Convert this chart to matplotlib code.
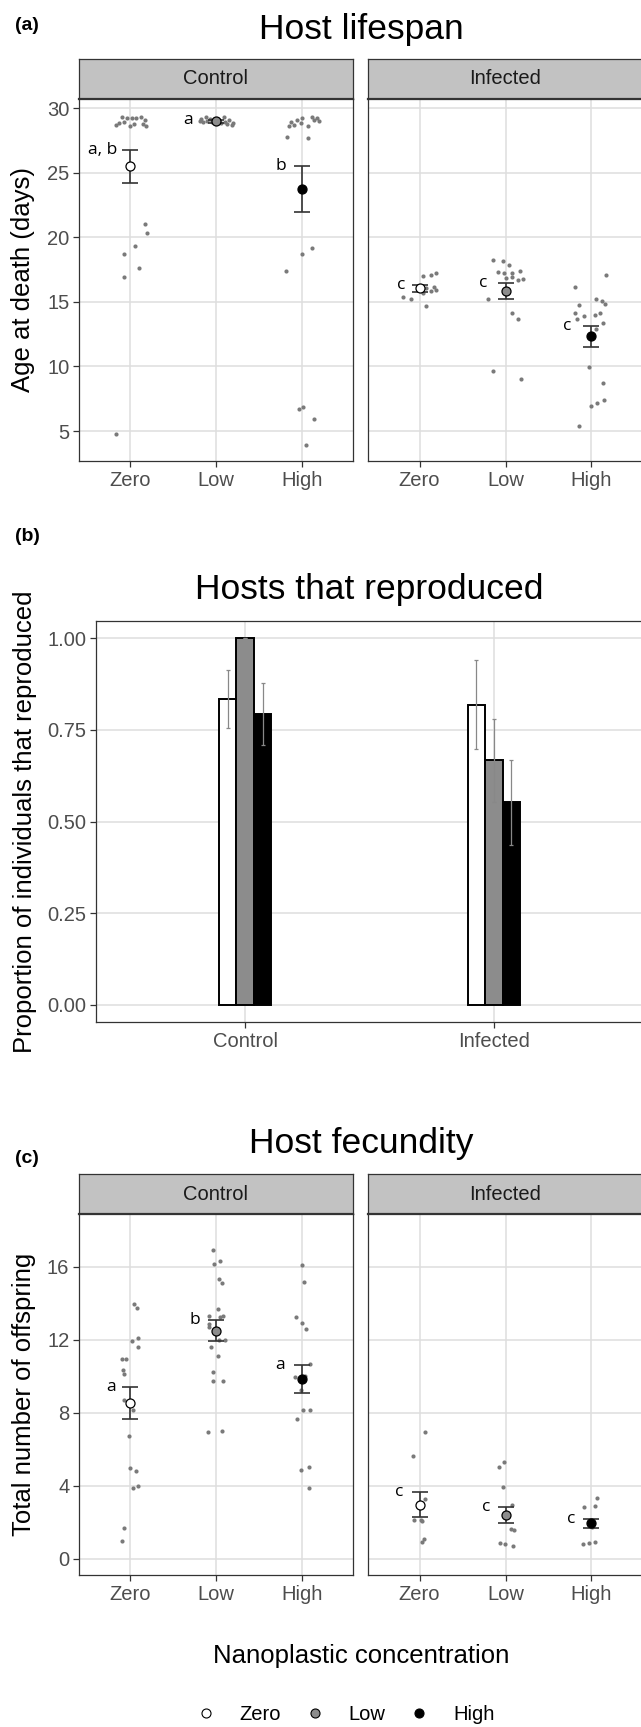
import matplotlib
matplotlib.use("Agg")
import matplotlib.pyplot as plt
from matplotlib.lines import Line2D

plt.rcParams['font.family'] = ['Liberation Sans', 'DejaVu Sans']

W, H = 641, 1727

conc = ["Zero", "Low", "High"]
groups = ["Control", "Infected"]
conc_fill = ["white", "#8c8c8c", "black"]

# ---- (a) host lifespan ----
life_mean_control = [25.5, 28.96, 23.73]
life_se_control = [1.27, 0.08, 1.79]
life_mean_infected = [16.05, 15.82, 12.34]
life_se_infected = [0.27, 0.60, 0.80]
life_letters_control = ["a, b", "a", "b"]
life_letters_infected = ["c", "c", "c"]

# raw points: offset from category centre and value
life_c_zero_dx = [-0.17, -0.13, -0.10, -0.07, -0.04, -0.01, 0.02, 0.04, 0.06, 0.12, 0.15, 0.17, 0.18,
                  0.17, 0.19, 0.05, -0.08, 0.10, -0.08, -0.17]
life_c_zero_y = [28.70, 28.83, 29.29, 28.93, 29.21, 28.62, 29.21, 28.78, 29.21, 29.29, 28.78, 29.08, 28.62,
                 21.05, 20.33, 19.30, 18.73, 17.65, 16.93, 4.80]
life_c_low_dx = [-0.19, -0.17, -0.15, -0.12, -0.10, -0.07, -0.05, -0.02, 0.03, 0.06, 0.09, 0.10,
                 0.13, 0.15, 0.19, 0.20]
life_c_low_y = [29.03, 29.13, 28.93, 29.29, 29.03, 29.19, 28.93, 29.08, 29.08, 28.88, 29.29, 28.95,
                28.78, 29.08, 28.70, 28.88]
life_c_high_dx = [-0.15, -0.12, -0.09, -0.05, -0.01, 0.01, 0.08, 0.12, 0.14, 0.18, 0.20,
                  -0.17, 0.07, -0.18, 0.00, 0.12, -0.03, 0.02, 0.14, 0.05]
life_c_high_y = [28.62, 28.95, 28.70, 29.08, 28.83, 29.21, 28.62, 29.34, 29.08, 29.21, 29.03,
                 27.72, 27.65, 17.37, 18.73, 19.17, 6.68, 6.83, 5.90, 3.95]
life_i_zero_dx = [-0.19, -0.10, 0.04, 0.13, 0.19, 0.17, 0.13, 0.19, 0.08, 0.04, 0.07]
life_i_zero_y = [15.41, 15.20, 17.01, 17.09, 17.24, 16.13, 15.85, 15.90, 14.64, 15.68, 16.05]
life_i_low_dx = [-0.14, -0.03, 0.04, -0.09, -0.02, 0.08, 0.17, 0.07, 0.00, 0.14, 0.20,
                 -0.20, 0.07, 0.14, -0.15, 0.18]
life_i_low_y = [18.22, 18.14, 17.88, 17.34, 17.24, 17.24, 17.42, 16.95, 16.85, 16.72, 16.77,
                15.25, 14.12, 13.65, 9.61, 9.05]
life_i_high_dx = [0.17, -0.19, -0.14, 0.05, 0.12, 0.16, -0.19, -0.09, 0.04, 0.10, -0.17, 0.14,
                  0.05, -0.03, 0.14, 0.15, 0.07, 0.00, -0.14]
life_i_high_y = [17.06, 16.18, 14.74, 15.20, 15.10, 14.84, 14.15, 13.89, 14.00, 14.15, 13.65, 13.38,
                 12.86, 9.98, 8.71, 7.43, 7.20, 6.93, 5.36]

# ---- (b) hosts that reproduced ----
repro_control = [0.834, 1.0, 0.794]
repro_control_se = [0.078, 0.0, 0.085]
repro_infected = [0.819, 0.667, 0.552]
repro_infected_se = [0.122, 0.114, 0.115]

# ---- (c) host fecundity ----
fec_mean_control = [8.54, 12.50, 9.85]
fec_se_control = [0.87, 0.56, 0.75]
fec_mean_infected = [2.97, 2.39, 1.95]
fec_se_infected = [0.70, 0.44, 0.24]
fec_letters_control = ["a", "b", "a"]
fec_letters_infected = ["c", "c", "c"]

fec_c_zero_dx = [0.04, 0.08, 0.02, 0.09, 0.09, -0.10, -0.05, -0.09, -0.08, -0.07, 0.03, -0.02,
                 -0.01, 0.07, 0.03, 0.09, -0.07, -0.10]
fec_c_zero_y = [13.97, 13.74, 11.95, 12.11, 11.60, 10.93, 10.95, 10.34, 10.14, 8.70, 8.16, 6.75,
                4.96, 4.82, 3.89, 4.00, 1.71, 1.00]
fec_c_low_dx = [-0.03, -0.02, 0.05, 0.04, 0.07, 0.02, -0.08, 0.08, -0.08, -0.08, 0.05, 0.03, 0.10,
                -0.06, 0.02, -0.03, -0.04, 0.08, -0.09, 0.07]
fec_c_low_y = [16.90, 16.13, 16.33, 15.34, 15.12, 13.70, 13.32, 13.30, 12.86, 12.72, 13.22, 11.99,
               11.99, 11.58, 11.11, 10.22, 9.72, 9.72, 6.93, 6.99]
fec_c_high_dx = [0.01, 0.03, -0.06, 0.00, 0.05, 0.10, -0.08, -0.01, 0.02, 0.10, -0.05, 0.09, -0.01,
                 0.09, 0.04]
fec_c_high_y = [16.11, 15.16, 13.23, 12.94, 12.61, 10.67, 9.96, 9.25, 8.16, 8.16, 7.66, 5.05, 4.87,
                3.90, 10.00]
fec_i_zero_dx = [0.06, -0.08, 0.06, -0.07, 0.03, 0.02, 0.05, 0.03]
fec_i_zero_y = [6.93, 5.64, 3.28, 2.12, 2.10, 2.12, 1.09, 0.91]
fec_i_low_dx = [-0.02, -0.08, -0.03, 0.08, 0.06, 0.10, -0.06, -0.01, 0.09]
fec_i_low_y = [5.31, 5.04, 3.92, 2.94, 1.66, 1.60, 0.86, 0.80, 0.69]
fec_i_high_dx = [0.07, -0.09, 0.04, 0.01, -0.02, -0.10, -0.03, 0.04]
fec_i_high_y = [3.36, 2.83, 2.88, 1.76, 1.92, 0.82, 0.89, 0.91]


fig = plt.figure(figsize=(W / 100, H / 100), dpi=100)


def px_axes(x0, y0, x1, y1):
    return fig.add_axes([x0 / W, 1 - y1 / H, (x1 - x0) / W, (y1 - y0) / H])


def px_text(x, y, s, **kw):
    return fig.text(x / W, 1 - y / H, s, **kw)


def style(ax):
    for s in ax.spines.values():
        s.set_color('#333333')
        s.set_linewidth(0.9)
    ax.grid(True, color='#dedede', linewidth=1.1)
    ax.set_axisbelow(True)
    ax.tick_params(length=4.5, width=0.9, color='#333333', labelsize=14.5,
                   labelcolor='#4d4d4d', pad=2.5)


def strip(x0, y0, x1, y1, label):
    sax = px_axes(x0, y0, x1, y1)
    sax.set_facecolor('#c2c2c2')
    sax.set_xticks([])
    sax.set_yticks([])
    for s in sax.spines.values():
        s.set_color('#333333')
        s.set_linewidth(0.9)
    sax.spines['bottom'].set_linewidth(1.6)
    sax.text(0.5, 0.5, label, transform=sax.transAxes, ha='center', va='center',
             fontsize=14.5, color='#1a1a1a')


def facet(ax, means, ses, pts, letters, nudges, ylim, yticks, show_y):
    style(ax)
    for i in range(3):
        x = i + 1
        dx, vals = pts[i]
        ax.plot([x + d for d in dx], vals, 'o', ms=3.0, color='#7a7a7a', mec='none', zorder=2)
        ax.errorbar(x, means[i], yerr=ses[i], fmt='none', ecolor='#333333', elinewidth=1.2,
                    capsize=6, capthick=1.2, zorder=3)
        ax.plot(x, means[i], 'o', ms=6.5, mfc=conc_fill[i], mec='black', mew=0.9, zorder=4)
        ax.text(x - nudges[i], means[i] + ses[i], letters[i], ha='right', va='center',
                fontsize=12.5, family=['Open Sans', 'DejaVu Sans'], zorder=5)
    ax.set_xlim(0.4, 3.6)
    ax.set_xticks([1, 2, 3])
    ax.set_xticklabels(conc)
    ax.set_ylim(*ylim)
    ax.set_yticks(yticks)
    if not show_y:
        ax.tick_params(axis='y', left=False, labelleft=False)


# ---- panel (a) ----
px_text(15, 26, "(a)", fontsize=14, fontweight='bold', ha='left', va='center')
px_text(361, 39.5, "Host lifespan", fontsize=25.5, ha='center', va='baseline')
strip(79, 59, 353, 99, groups[0])
strip(368, 59, 643, 99, groups[1])
ax_a1 = px_axes(79, 99, 353, 461)
ax_a2 = px_axes(368, 99, 643, 461)
facet(ax_a1, life_mean_control, life_se_control,
      [(life_c_zero_dx, life_c_zero_y), (life_c_low_dx, life_c_low_y), (life_c_high_dx, life_c_high_y)],
      life_letters_control, [0.15, 0.27, 0.18], (2.68, 30.7), [5, 10, 15, 20, 25, 30], True)
facet(ax_a2, life_mean_infected, life_se_infected,
      [(life_i_zero_dx, life_i_zero_y), (life_i_low_dx, life_i_low_y), (life_i_high_dx, life_i_high_y)],
      life_letters_infected, [0.17, 0.21, 0.23], (2.68, 30.7), [5, 10, 15, 20, 25, 30], False)
px_text(23, 280, "Age at death (days)", fontsize=18.5, rotation=90, ha='center', va='center')

# ---- panel (b) ----
px_text(15, 536.5, "(b)", fontsize=14, fontweight='bold', ha='left', va='center')
px_text(369.5, 599.5, "Hosts that reproduced", fontsize=25.5, ha='center', va='baseline')
ax_b = px_axes(96, 621, 643, 1022)
style(ax_b)
bar_w = 0.07
for gi, (vals, ses) in enumerate([(repro_control, repro_control_se),
                                   (repro_infected, repro_infected_se)]):
    for i in range(3):
        x = gi + 1 + (i - 1) * bar_w
        ax_b.bar(x, vals[i], width=bar_w, color=conc_fill[i], edgecolor='black',
                 linewidth=1.4, zorder=2)
        ax_b.errorbar(x, vals[i], yerr=ses[i], fmt='none', ecolor='#888888', elinewidth=0.9,
                      capsize=1.3, capthick=0.9, zorder=3)
ax_b.set_xlim(0.4, 2.6)
ax_b.set_xticks([1, 2])
ax_b.set_xticklabels(groups)
ax_b.set_ylim(-0.047, 1.047)
ax_b.set_yticks([0, 0.25, 0.5, 0.75, 1.0])
ax_b.set_yticklabels(["0.00", "0.25", "0.50", "0.75", "1.00"])
px_text(25, 821.5, "Proportion of individuals that reproduced", fontsize=18.5, rotation=90,
        ha='center', va='center')

# ---- panel (c) ----
px_text(15, 1158.5, "(c)", fontsize=14, fontweight='bold', ha='left', va='center')
px_text(361, 1152.5, "Host fecundity", fontsize=25.5, ha='center', va='baseline')
strip(79, 1174, 353, 1214, groups[0])
strip(368, 1174, 643, 1214, groups[1])
ax_c1 = px_axes(79, 1214, 353, 1575)
ax_c2 = px_axes(368, 1214, 643, 1575)
facet(ax_c1, fec_mean_control, fec_se_control,
      [(fec_c_zero_dx, fec_c_zero_y), (fec_c_low_dx, fec_c_low_y), (fec_c_high_dx, fec_c_high_y)],
      fec_letters_control, [0.17, 0.19, 0.19], (-0.88, 18.88), [0, 4, 8, 12, 16], True)
facet(ax_c2, fec_mean_infected, fec_se_infected,
      [(fec_i_zero_dx, fec_i_zero_y), (fec_i_low_dx, fec_i_low_y), (fec_i_high_dx, fec_i_high_y)],
      fec_letters_infected, [0.19, 0.18, 0.19], (-0.88, 18.88), [0, 4, 8, 12, 16], False)
px_text(24, 1394.5, "Total number of offspring", fontsize=18.5, rotation=90, ha='center', va='center')

px_text(361, 1662.5, "Nanoplastic concentration", fontsize=18.5, ha='center', va='baseline')

handles = [Line2D([], [], marker='o', ls='none', mfc=f, mec='black', mew=0.8, ms=6.5)
           for f in conc_fill]
fig.legend(handles, conc, loc='center', bbox_to_anchor=(345 / W, 1 - 1715 / H), ncol=3,
           frameon=False, fontsize=14.5, handlelength=1.0, handletextpad=1.16,
           columnspacing=1.2)

fig.savefig("out.png", dpi=100)
